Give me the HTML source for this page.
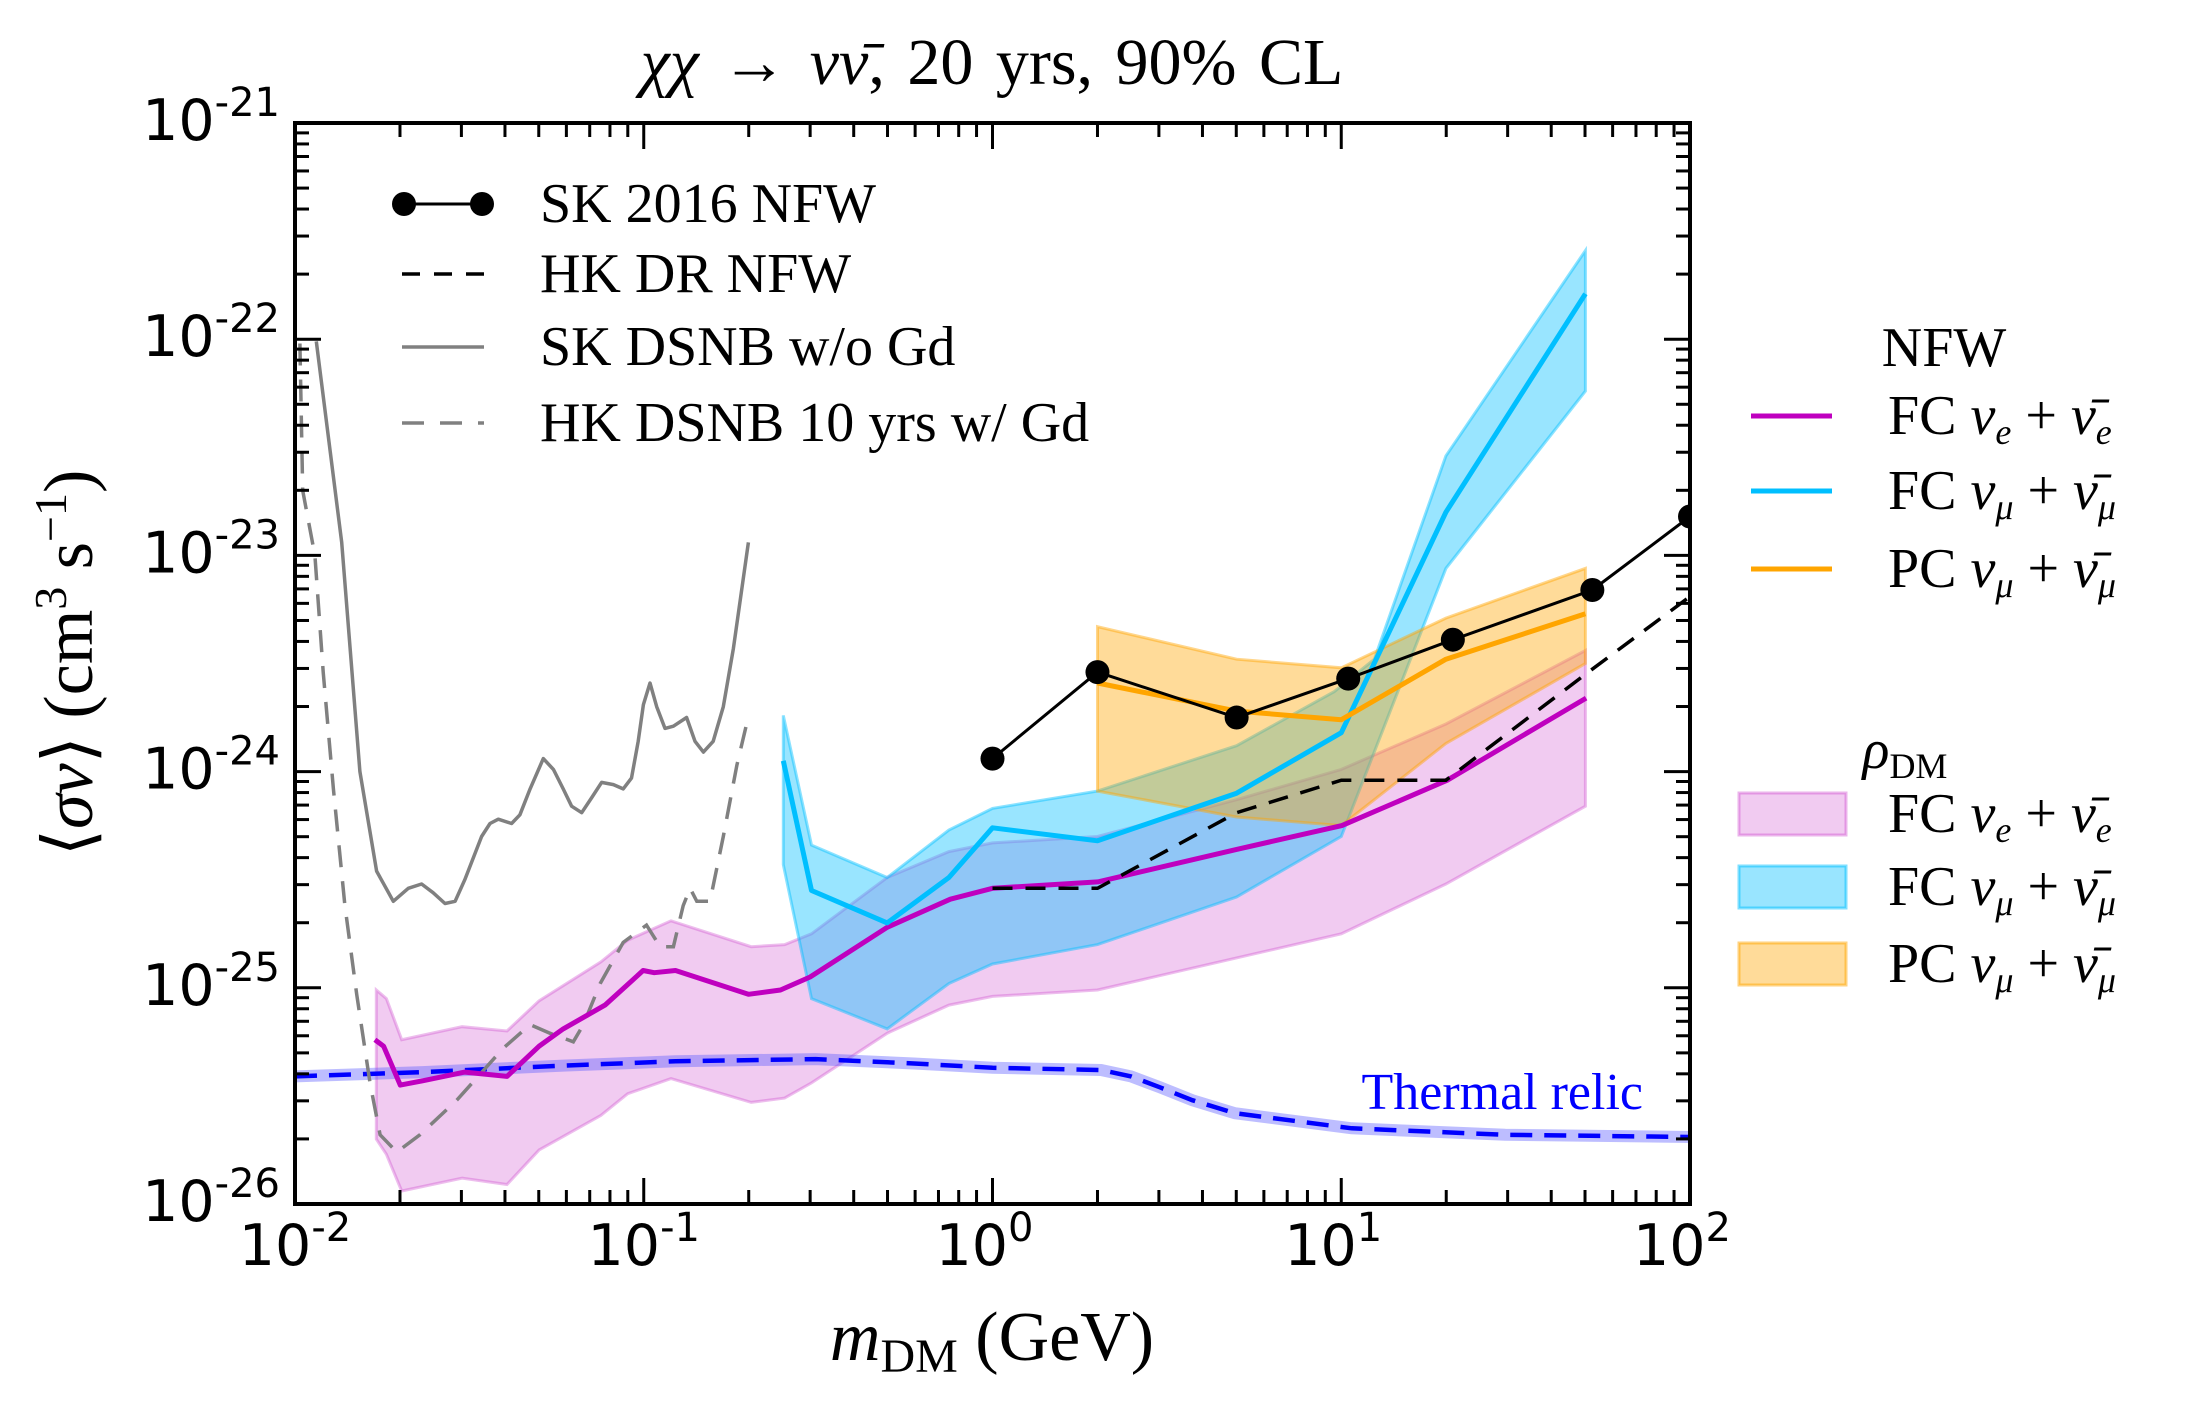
<!DOCTYPE html>
<html><head><meta charset="utf-8"><style>
html,body{margin:0;padding:0;background:#fff;}
svg{display:block;}
text{font-family:"Liberation Serif","DejaVu Serif",serif;}
.tk{font-family:"DejaVu Sans","Liberation Sans",sans-serif;}
</style></head><body>
<svg id="chart" xmlns="http://www.w3.org/2000/svg" width="2202" height="1401" viewBox="0 0 2202 1401">
<defs><clipPath id="clip"><rect x="295" y="123" width="1395" height="1081"/></clipPath></defs>
<g id="plot" clip-path="url(#clip)"></g>
<g id="axes"></g>
<text x="992" y="84" font-size="66" text-anchor="middle" word-spacing="6"><tspan font-style="italic">χχ</tspan> → <tspan font-style="italic">νν̄</tspan>,  20 yrs,  90% CL</text>
<text x="992" y="1360" font-size="70" text-anchor="middle"><tspan font-style="italic">m</tspan><tspan font-size="48" dy="12">DM</tspan><tspan dy="-12"> (GeV)</tspan></text>
<text transform="translate(92,663) rotate(-90)" font-size="70" text-anchor="middle">⟨<tspan font-style="italic">σv</tspan>⟩ (cm<tspan font-size="46" dy="-26">3</tspan><tspan dy="26"> s</tspan><tspan font-size="46" dy="-26">−1</tspan><tspan dy="26">)</tspan></text>
<g id="legend1"></g>
<g id="legend2"></g>
<g id="legend3"></g>
<text x="1643" y="1109" font-size="52" fill="#0000ff" text-anchor="end">Thermal relic</text>
</svg>
<script>
// ---- data (log10 mass [GeV], log10 <sigma v> [cm^3/s]) ----
const skNfwM = [0, 0.301, 0.70, 1.02, 1.32, 1.72, 2.0];
const skNfwS = [-23.94, -23.54, -23.75, -23.57, -23.39, -23.16, -22.82];
const hkDrM = [0, 0.301, 0.70, 1.0, 1.30, 1.70, 2.0];
const hkDrS = [-24.54, -24.54, -24.19, -24.04, -24.04, -23.55, -23.19];
const skDsnbM = [-1.939,-1.866,-1.814,-1.766,-1.718,-1.675,-1.637,-1.604,-1.570,-1.541,-1.513,-1.465,-1.441,-1.417,-1.379,-1.355,-1.326,-1.288,-1.259,-1.231,-1.207,-1.178,-1.149,-1.121,-1.087,-1.059,-1.035,-1.016,-1.001,-0.982,-0.963,-0.939,-0.915,-0.877,-0.853,-0.829,-0.801,-0.772,-0.743,-0.700];
const skDsnbS = [-22.01,-22.94,-24.00,-24.46,-24.60,-24.54,-24.52,-24.56,-24.61,-24.60,-24.50,-24.30,-24.24,-24.22,-24.24,-24.20,-24.08,-23.94,-23.99,-24.08,-24.16,-24.19,-24.12,-24.05,-24.06,-24.08,-24.03,-23.86,-23.69,-23.59,-23.70,-23.80,-23.79,-23.75,-23.86,-23.91,-23.86,-23.70,-23.43,-22.94];
const hkDsnbM = [-1.986,-1.978,-1.943,-1.919,-1.890,-1.857,-1.823,-1.785,-1.756,-1.708,-1.642,-1.536,-1.403,-1.326,-1.269,-1.202,-1.173,-1.125,-1.059,-0.992,-0.953,-0.915,-0.887,-0.867,-0.848,-0.810,-0.772,-0.733,-0.705];
const hkDsnbS = [-22.02,-22.70,-23.00,-23.54,-24.08,-24.62,-25.03,-25.44,-25.68,-25.76,-25.68,-25.52,-25.28,-25.17,-25.21,-25.25,-25.17,-24.98,-24.79,-24.71,-24.81,-24.81,-24.62,-24.54,-24.60,-24.60,-24.30,-23.97,-23.78];
const relicM = [-2,-1.634,-1.231,-0.909,-0.507,-0.225,0,0.311,0.397,0.48,0.573,0.695,1.03,1.47,2.0];
const relicS = [-25.41,-25.39,-25.36,-25.34,-25.33,-25.35,-25.37,-25.38,-25.41,-25.46,-25.52,-25.58,-25.65,-25.68,-25.69];
const feLineM = [-1.771,-1.746,-1.698,-1.634,-1.513,-1.392,-1.300,-1.231,-1.111,-1.002,-0.970,-0.909,-0.700,-0.608,-0.523,-0.302,-0.121,0,0.302,0.700,1.002,1.304,1.702];
const feLineS = [-25.24,-25.27,-25.45,-25.43,-25.39,-25.41,-25.27,-25.19,-25.08,-24.92,-24.93,-24.92,-25.03,-25.01,-24.95,-24.72,-24.59,-24.54,-24.51,-24.36,-24.25,-24.04,-23.66];
const feUpM = [-1.767,-1.738,-1.694,-1.521,-1.392,-1.300,-1.123,-1.046,-0.922,-0.692,-0.596,-0.519,-0.302,-0.125,0,0.301,0.70,1.0,1.30,1.70];
const feUpS = [-25.01,-25.05,-25.24,-25.18,-25.20,-25.06,-24.88,-24.78,-24.69,-24.81,-24.80,-24.75,-24.49,-24.37,-24.33,-24.30,-24.13,-23.99,-23.78,-23.44];
const feLoM = [-1.767,-1.738,-1.694,-1.521,-1.392,-1.300,-1.123,-1.046,-0.922,-0.692,-0.596,-0.519,-0.302,-0.125,0,0.301,1.0,1.30,1.70];
const feLoS = [-25.70,-25.77,-25.94,-25.88,-25.91,-25.75,-25.59,-25.49,-25.42,-25.53,-25.51,-25.44,-25.21,-25.08,-25.04,-25.01,-24.75,-24.52,-24.16];
const fmUpM = [-0.600,-0.519,-0.302,-0.125,0,0.301,0.70,0.98,1.095,1.30,1.70];
const fmUpS = [-23.74,-24.34,-24.49,-24.27,-24.17,-24.09,-23.88,-23.63,-23.48,-22.54,-21.59];
const fmLoM = [-0.600,-0.519,-0.302,-0.125,0,0.301,0.70,1.0,1.30,1.70];
const fmLoS = [-24.43,-25.05,-25.19,-24.98,-24.89,-24.80,-24.58,-24.30,-23.06,-22.24];
const fmLineM = [-0.600,-0.519,-0.302,-0.125,0,0.301,0.70,1.0,1.30,1.70];
const fmLineS = [-23.95,-24.55,-24.70,-24.49,-24.26,-24.32,-24.10,-23.82,-22.80,-21.79];
const pcM = [0.301,0.70,1.0,1.30,1.70];
const pcUpS = [-23.33,-23.48,-23.52,-23.29,-23.06];
const pcLoS = [-24.09,-24.21,-24.25,-23.87,-23.50];
const pcLineS = [-23.59,-23.72,-23.76,-23.48,-23.27];
const xTickExp = [-2,-1,0,1,2];
const yTickExp = [-21,-22,-23,-24,-25,-26];

const NS='http://www.w3.org/2000/svg';
const L=295,R=1690,T=123,B=1204;
function X(lm){return L+(lm+2)*(R-L)/4;}
function Y(ls){return T+(-21-ls)*(B-T)/5;}
function mk(tag,attrs,parent){const e=document.createElementNS(NS,tag);for(const k in attrs)e.setAttribute(k,attrs[k]);parent.appendChild(e);return e;}
function pts(ms,ss){return ms.map((m,i)=>X(m).toFixed(1)+','+Y(ss[i]).toFixed(1)).join(' ');}
function band(mu,su,ml,sl){return pts(mu,su)+' '+pts(ml.slice().reverse(),sl.slice().reverse());}
const plot=document.getElementById('plot');

let e;
e=mk('polygon',{points:band(feUpM,feUpS,feLoM,feLoS),fill:'rgba(204,68,204,0.28)',stroke:'rgba(204,68,204,0.35)','stroke-width':3},plot);


e=mk('polygon',{points:band(fmUpM,fmUpS,fmLoM,fmLoS),fill:'rgba(0,191,255,0.4)',stroke:'rgba(0,191,255,0.45)','stroke-width':3},plot);


e=mk('polygon',{points:band(pcM,pcUpS,pcM,pcLoS),fill:'rgba(255,165,0,0.4)',stroke:'rgba(255,165,0,0.45)','stroke-width':3},plot);



e=mk('polyline',{points:pts(relicM,relicS),fill:'none',stroke:'rgba(90,90,255,0.4)','stroke-width':12},plot);


e=mk('polyline',{points:pts(relicM,relicS),fill:'none',stroke:'#0000ff','stroke-width':4.5,'stroke-dasharray':'22,12'},plot);



e=mk('polyline',{points:pts(skDsnbM,skDsnbS),fill:'none',stroke:'#808080','stroke-width':3.5,'stroke-linejoin':'round'},plot);


e=mk('polyline',{points:pts(hkDsnbM,hkDsnbS),fill:'none',stroke:'#808080','stroke-width':3.5,'stroke-dasharray':'22,14'},plot);



e=mk('polyline',{points:pts(feLineM,feLineS),fill:'none',stroke:'#bf00bf','stroke-width':5,'stroke-linejoin':'round'},plot);


e=mk('polyline',{points:pts(fmLineM,fmLineS),fill:'none',stroke:'#00bfff','stroke-width':5,'stroke-linejoin':'round'},plot);


e=mk('polyline',{points:pts(pcM,pcLineS),fill:'none',stroke:'#ffa500','stroke-width':5,'stroke-linejoin':'round'},plot);



e=mk('polyline',{points:pts(hkDrM,hkDrS),fill:'none',stroke:'#000','stroke-width':3.5,'stroke-dasharray':'20,13'},plot);


e=mk('polyline',{points:pts(skNfwM,skNfwS),fill:'none',stroke:'#000','stroke-width':3},plot);


skNfwM.forEach((m,i)=>{
  const c=mk('circle',{cx:X(m),cy:Y(skNfwS[i]),r:12,fill:'#000'},plot);
  
  
});

// axes
const ax=document.getElementById('axes');
e=mk('rect',{x:L,y:T,width:R-L,height:B-T,fill:'none',stroke:'#000','stroke-width':4},ax);


for(let d=-2;d<=2;d++){
  for(let k=1;k<=9;k++){
    if(d===2&&k>1)break;
    const lm=d+Math.log10(k), x=X(lm), len=k===1?26:14;
    mk('line',{x1:x,y1:B,x2:x,y2:B-len,stroke:'#000','stroke-width':3},ax);
    mk('line',{x1:x,y1:T,x2:x,y2:T+len,stroke:'#000','stroke-width':3},ax);
  }
}
for(let d=-26;d<=-21;d++){
  for(let k=1;k<=9;k++){
    if(d===-21&&k>1)break;
    const ls=d+Math.log10(k), y=Y(ls), len=k===1?26:14;
    mk('line',{x1:L,y1:y,x2:L+len,y2:y,stroke:'#000','stroke-width':3},ax);
    mk('line',{x1:R,y1:y,x2:R-len,y2:y,stroke:'#000','stroke-width':3},ax);
  }
}
xTickExp.forEach(p=>{
  const t=mk('text',{x:X(p)+(p<0?0:-8),y:1265,'font-size':57,'text-anchor':'middle',class:'tk'},ax);
  
  
  t.appendChild(document.createTextNode('10'));
  const s=mk('tspan',{'font-size':40,dy:-24},t); s.textContent=String(p);
});
yTickExp.forEach(p=>{
  const t=mk('text',{x:280,y:Y(p)+17,'font-size':57,'text-anchor':'end',class:'tk'},ax);
  
  
  t.appendChild(document.createTextNode('10'));
  const s=mk('tspan',{'font-size':40,dy:-24},t); s.textContent=String(p);
});

// legend 1
const lg1=document.getElementById('legend1');
const l1=[['SK 2016 NFW','#000','none',true,204],['HK DR NFW','#000','18,14',false,274],['SK DSNB w/o Gd','#808080','none',false,347],['HK DSNB 10 yrs w/ Gd','#808080','22,16',false,423]];
l1.forEach(r=>{
  const g=mk('g',{},lg1);
  
  
  mk('line',{x1:402,y1:r[4],x2:484,y2:r[4],stroke:r[1],'stroke-width':r[3]?3:3.5,'stroke-dasharray':r[2]},g);
  if(r[3]){mk('circle',{cx:404,cy:r[4],r:12,fill:'#000'},g);mk('circle',{cx:482,cy:r[4],r:12,fill:'#000'},g);}
  const t=mk('text',{x:540,y:r[4]+18,'font-size':56},g); t.textContent=r[0];
});
// legend 2
const lg2=document.getElementById('legend2');
let tt=mk('text',{x:1944,y:366,'font-size':56,'text-anchor':'middle'},lg2); tt.textContent='NFW';
function nuLabel(parent,x,y,pre,sub){
  const t=mk('text',{x:x,y:y,'font-size':56},parent);
  t.appendChild(document.createTextNode(pre+' '));
  let s=mk('tspan',{'font-style':'italic'},t); s.textContent='ν';
  s=mk('tspan',{'font-size':36,'font-style':'italic',dy:10},t); s.textContent=sub;
  s=mk('tspan',{dy:-10},t); s.textContent=' + ';
  s=mk('tspan',{'font-style':'italic'},t); s.textContent='ν̄';
  s=mk('tspan',{'font-size':36,'font-style':'italic',dy:10},t); s.textContent=sub;
  return t;
}
[['FC','e','#bf00bf',416],['FC','μ','#00bfff',491],['PC','μ','#ffa500',569]].forEach(r=>{
  const g=mk('g',{},lg2);
  
  
  mk('line',{x1:1751,y1:r[3],x2:1832,y2:r[3],stroke:r[2],'stroke-width':5},g);
  nuLabel(g,1888,r[3]+18,r[0],r[1]);
});
// legend 3
const lg3=document.getElementById('legend3');
tt=mk('text',{x:1905,y:768,'font-size':56,'text-anchor':'middle'},lg3);
let ts=mk('tspan',{'font-style':'italic'},tt); ts.textContent='ρ';
ts=mk('tspan',{'font-size':36,dy:10},tt); ts.textContent='DM';
[['FC','e','rgba(204,68,204,0.28)','rgba(204,68,204,0.4)',814],['FC','μ','rgba(0,191,255,0.4)','rgba(0,191,255,0.5)',887],['PC','μ','rgba(255,165,0,0.4)','rgba(255,165,0,0.5)',964]].forEach(r=>{
  const g=mk('g',{},lg3);
  
  
  mk('rect',{x:1739,y:r[4]-21,width:107,height:42,fill:r[2],stroke:r[3],'stroke-width':3},g);
  nuLabel(g,1888,r[4]+18,r[0],r[1]);
});
</script>
</body></html>
